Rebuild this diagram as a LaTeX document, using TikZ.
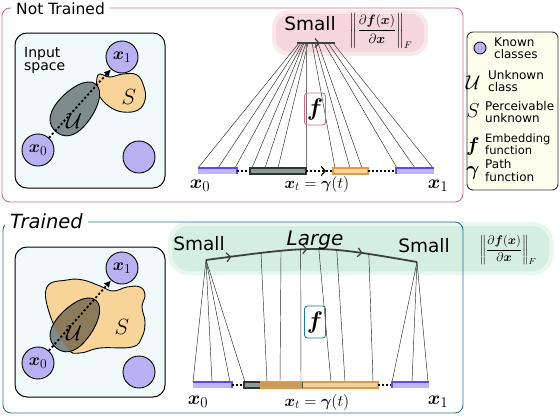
\RequirePackage{fix-cm}
\documentclass[tikz,border=0pt]{standalone}
\usepackage{fontspec}
\setsansfont{DejaVu Sans}
\usepackage{amsmath}
\usepackage{bm}
\usetikzlibrary{arrows.meta,decorations.markings}
\DeclareMathSizes{19}{19}{15}{12}
\DeclareMathSizes{17}{17}{13.5}{10}
\DeclareMathSizes{16}{16}{12}{9}
\definecolor{pinkb}{RGB}{214,104,134}
\definecolor{tealb}{RGB}{34,118,150}
\definecolor{pinkhl}{RGB}{245,214,219}
\definecolor{greenhl}{RGB}{212,238,224}
\definecolor{spacefill}{RGB}{240,250,250}
\definecolor{known}{RGB}{184,178,242}
\definecolor{ugray}{RGB}{126,139,139}
\definecolor{sorange}{RGB}{249,212,152}
\definecolor{overlap}{RGB}{140,123,90}
\definecolor{barpurple}{RGB}{92,72,236}
\definecolor{barpurplefill}{RGB}{190,182,246}
\definecolor{bargray}{RGB}{138,154,154}
\definecolor{barorange}{RGB}{222,156,60}
\definecolor{barorangefill}{RGB}{244,210,160}
\definecolor{overlapbar}{RGB}{196,156,100}
\definecolor{legendfill}{RGB}{255,253,235}
\tikzset{barb/.tip={Straight Barb[length=4pt,width=9pt,line width=1.2pt]}}
\begin{document}
\begin{tikzpicture}[x=1pt,y=-1pt,
  panel/.style={rounded corners=8pt,line width=0.9pt},
  ttl/.style={fill=white,inner xsep=5pt,inner ysep=1pt,anchor=base west},
  inspace/.style={draw=black,fill=spacefill,rounded corners=12pt,line width=1pt},
  knowncirc/.style={circle,draw=black,fill=known,line width=0.9pt,minimum size=32pt,inner sep=0pt,font=\fontsize{17}{17}\selectfont},
  ray/.style={line width=0.45pt,black!85},
  pathdot/.style={line width=1.8pt,dash pattern=on 2.2pt off 2.2pt,-{Latex[length=7pt,width=7pt]}},
  bardot/.style={line width=1.3pt,dash pattern=on 2pt off 2pt},
  fbox/.style={draw,rounded corners=3pt,line width=0.9pt,minimum width=21pt,minimum height=32pt,inner sep=0pt,font=\fontsize{24}{24}\selectfont},
  bigx/.style={font=\fontsize{19}{19}\selectfont},
  midx/.style={font=\fontsize{16}{16}\selectfont},
  sml/.style={font=\sffamily\fontsize{18.5}{18.5}\selectfont,anchor=base},
  symlbl/.style={font=\fontsize{22}{22}\selectfont},
  legline/.style={font=\sffamily\fontsize{12}{12}\selectfont,anchor=base west,inner sep=0pt},
  legsym/.style={font=\fontsize{20}{20}\selectfont,inner sep=0pt},
  egg/.style={insert path={(31,0) .. controls (31,11) and (12,18) .. (-6,18) .. controls (-24,18) and (-31,10) .. (-31,0) .. controls (-31,-10) and (-24,-18) .. (-6,-18) .. controls (12,-18) and (31,-11) .. (31,0) -- cycle}},
]
\useasboundingbox (0,0) rectangle (560,418);

%================ TOP PANEL =================
\fill[pinkhl!55,rounded corners=17pt] (272,10) rectangle (428,56);
\fill[pinkhl,rounded corners=14pt] (276,14) rectangle (424,52);
\draw[pinkb,panel] (2,8) rectangle (463,202);
\node[ttl,font=\sffamily\fontsize{15.5}{15.5}\selectfont] (t1) at (11,14) {Not Trained};

% input space
\draw[inspace] (15,33) rectangle (165,188);
\node[font=\sffamily\fontsize{14}{13.5}\selectfont,align=left,anchor=north west,inner sep=0pt] (isp1) at (24,47) {Input\\space};
\draw[fill=sorange,line width=0.9pt] plot[smooth cycle,tension=0.7] coordinates {(97,78) (100,74) (110,77) (123,74) (137,75) (144,87) (145,100) (138,110) (123,112) (110,107) (100,97) (97,87)};
\begin{scope}[shift={(76,108)},rotate=50]
\draw[fill=ugray,line width=0.9pt,egg];
\end{scope}
\node[knowncirc] (a1) at (122,57) {$\bm{x}_1$};
\node[knowncirc] (a0) at (38,150) {$\bm{x}_0$};
\node[knowncirc] (a2) at (139,157) {};
\draw[pathdot] (a0) -- (a1);
\node[symlbl] (ul1) at (74,121) {$\mathcal{U}$};
\node[symlbl] (sl1) at (129,97) {$S$};

% plot top
\foreach \b/\t in {198/299,218/301,235/303,252/304,265/306,278/308,335/312,350/315,362/318,397/324,415/328,433/333}
  \draw[ray] (\b,168) -- (\t,43);
\draw[black!55,line width=0.9pt] (306,43) -- (306,168);
\draw[line width=1.6pt,black!75,postaction={decorate},decoration={markings,mark=at position 0.6 with {\arrow{barb}}}] (297,43) -- (335,43);
\fill[barpurplefill] (198,168) rectangle (237,174);
\draw[barpurple,line width=1.2pt] (198,168) -- (237,168) -- (237,174);
\draw[bardot] (237,171) -- (250,171);
\draw[fill=bargray,draw=black!80,line width=1.2pt] (250,168) rectangle (306,174);
\draw[bardot,-{barb}] (306,171) -- (326,171);
\draw[bardot] (326,171) -- (333,171);
\draw[fill=barorangefill,draw=barorange,line width=1.2pt] (333,168) rectangle (368,174);
\draw[bardot] (368,171) -- (396,171);
\fill[barpurplefill] (396,168) rectangle (434,174);
\draw[barpurple,line width=1.2pt] (434,168) -- (396,168) -- (396,174);
\node[fbox,draw=pinkb] (f1) at (315,109) {$\bm{f}$};
\node[bigx] (lx0a) at (200,186) {$\bm{x}_0$};
\node[midx] (lxta) at (317,184) {$\bm{x}_t=\bm{\gamma}(t)$};
\node[bigx] (lx1a) at (438,186) {$\bm{x}_1$};
\node[sml] (s1) at (310,30) {Small};
\node[font=\fontsize{13.5}{13.5}\selectfont] (n1) at (381,31) {$\displaystyle\left\|\frac{\partial\bm{f}(\bm{x})}{\partial\bm{x}}\right\|_F$};

%================ LEGEND =================
\draw[draw=black!80,fill=legendfill,rounded corners=6pt,line width=0.9pt] (467,32) rectangle (558,190);
\node[circle,draw=black,fill=known,minimum size=12pt,inner sep=0pt,line width=0.8pt] (lg1) at (480,48) {};
\node[legline] (lt1a) at (494,46) {Known};
\node[legline] (lt1b) at (494,58) {classes};
\node[legsym] (lg2) at (473,83) {$\mathcal{U}$};
\node[legline] (lt2a) at (488,79) {Unknown};
\node[legline] (lt2b) at (488,91) {class};
\node[legsym] (lg3) at (473,111) {$S$};
\node[legline] (lt3a) at (485,110) {Perceivable};
\node[legline] (lt3b) at (485,122) {unknown};
\node[legsym] (lg4) at (473,146) {$\bm{f}$};
\node[legline,font=\sffamily\fontsize{11.5}{11.5}\selectfont] (lt4a) at (485,142) {Embedding};
\node[legline,font=\sffamily\fontsize{11.5}{11.5}\selectfont] (lt4b) at (485,154) {function};
\node[legsym] (lg5) at (473,173) {$\bm{\gamma}$};
\node[legline] (lt5a) at (485,168) {Path};
\node[legline] (lt5b) at (485,181) {function};

%================ BOTTOM PANEL =================
\fill[greenhl!55,rounded corners=20pt] (168,222) rectangle (553,275);
\fill[greenhl,rounded corners=17pt] (172,226) rectangle (549,271);
\draw[tealb,panel] (3,222) rectangle (463,413);
\node[ttl,font=\sffamily\itshape\fontsize{19.5}{19.5}\selectfont] (t2) at (5,228) {Trained};

\draw[inspace] (15,247) rectangle (165,397);
\draw[fill=sorange,line width=0.9pt] plot[smooth cycle,tension=0.7] coordinates {(47,287) (67,280) (83,280) (100,286) (113,291) (127,287) (140,287) (145,295) (142,307) (145,322) (142,337) (132,347) (100,348) (80,353) (67,348) (50,315)};
\begin{scope}[shift={(76,324)},rotate=50]
\fill[ugray,egg];
\end{scope}
\begin{scope}
\clip plot[smooth cycle,tension=0.7] coordinates {(47,287) (67,280) (83,280) (100,286) (113,291) (127,287) (140,287) (145,295) (142,307) (145,322) (142,337) (132,347) (100,348) (80,353) (67,348) (50,315)};
\begin{scope}[shift={(76,324)},rotate=50]
\fill[overlap,egg];
\end{scope}
\end{scope}
\begin{scope}[shift={(76,324)},rotate=50]
\draw[line width=0.9pt,egg];
\end{scope}
\node[knowncirc] (b1) at (122,268) {$\bm{x}_1$};
\node[knowncirc] (b0) at (38,363) {$\bm{x}_0$};
\node[knowncirc] (b2) at (139,372) {};
\draw[pathdot] (b0) -- (b1);
\node[symlbl] (ul2) at (74,333) {$\mathcal{U}$};
\node[symlbl] (sl2) at (122,327) {$S$};

% plot bottom
\draw[line width=1.8pt,black!75,postaction={decorate},decoration={markings,
  mark=at position 0.12 with {\arrow{barb}},
  mark=at position 0.48 with {\arrow{barb}},
  mark=at position 0.74 with {\arrow{barb}}}]
  (206,260) .. controls (318.5,245) .. (417,262)
  coordinate[pos=0.197] (m1) coordinate[pos=0.292] (m2) coordinate[pos=0.401] (m3)
  coordinate[pos=0.513] (m4) coordinate[pos=0.626] (m5) coordinate[pos=0.804] (m6);
\coordinate (apl) at (206,260);
\coordinate (apr) at (417,262);
\foreach \b in {193,212,230,245} \draw[ray] (apl) -- (\b,382);
\foreach \b in {392,412,428} \draw[ray] (apr) -- (\b,382);
\draw[ray] (m1) -- (267,382);
\draw[ray] (m2) -- (280,382);
\draw[ray] (m3) -- (301,382);
\draw[ray] (m4) -- (331,382);
\draw[ray] (m5) -- (345,382);
\draw[ray] (m6) -- (373,382);
\fill[barpurplefill] (193,382) rectangle (232,388);
\draw[barpurple,line width=1.2pt] (193,382) -- (232,382) -- (232,388);
\draw[bardot] (232,385) -- (244,385);
\draw[fill=bargray,draw=black!80,line width=1.2pt] (244,382) rectangle (302,388);
\fill[barorangefill] (261,382) rectangle (378,388);
\fill[overlapbar] (261,382) rectangle (302,388);
\draw[barorange,line width=1.2pt] (261,382) rectangle (378,388);
\draw[black!70,line width=0.8pt] (302,382) -- (302,388);
\draw[bardot] (378,385) -- (392,385);
\fill[barpurplefill] (392,382) rectangle (429,388);
\draw[barpurple,line width=1.2pt] (429,382) -- (392,382) -- (392,388);
\node[fbox,draw=tealb] (f2) at (315,322) {$\bm{f}$};
\node[bigx] (lx0b) at (198,402) {$\bm{x}_0$};
\node[midx] (lxtb) at (317,402) {$\bm{x}_t=\bm{\gamma}(t)$};
\node[bigx] (lx1b) at (438,402) {$\bm{x}_1$};
\node[sml] (s2) at (199,250) {Small};
\node[sml,font=\sffamily\itshape\fontsize{20}{20}\selectfont] (lg) at (315,245) {Large};
\node[sml] (s3) at (424,252) {Small};
\node[font=\fontsize{12.5}{12.5}\selectfont] (n2) at (508,250) {$\displaystyle\left\|\frac{\partial\bm{f}(\bm{x})}{\partial\bm{x}}\right\|_F$};
\end{tikzpicture}
\end{document}
